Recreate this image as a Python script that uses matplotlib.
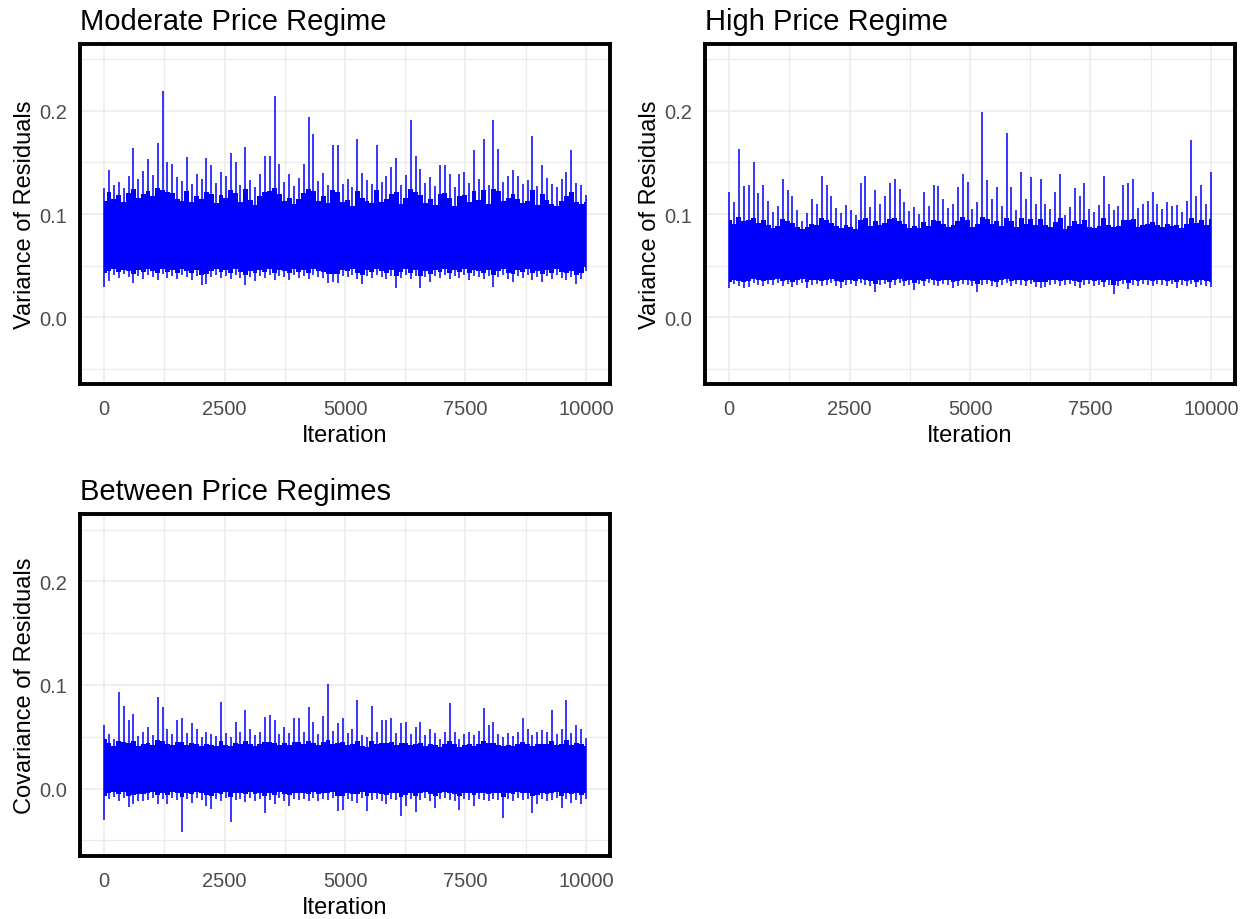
import numpy as np
import matplotlib.pyplot as plt
from matplotlib.ticker import MultipleLocator

plt.rcParams['font.family'] = ['Liberation Sans', 'DejaVu Sans']

#-------------------------------------
#-- Trace summaries (10000 iterations)
#-------------------------------------
# per 100-iteration block: highest / lowest draw (hi, lo)
# and the level that most draws in the block stay within (up, down)
mod_hi = [0.125, 0.143, 0.128, 0.131, 0.125, 0.137, 0.164, 0.134, 0.142, 0.153,
          0.138, 0.169, 0.219, 0.150, 0.149, 0.136, 0.132, 0.155, 0.129, 0.139,
          0.134, 0.154, 0.148, 0.130, 0.141, 0.137, 0.159, 0.150, 0.128, 0.165,
          0.133, 0.126, 0.139, 0.156, 0.156, 0.215, 0.149, 0.131, 0.139, 0.127,
          0.135, 0.149, 0.194, 0.178, 0.132, 0.140, 0.128, 0.167, 0.167, 0.129,
          0.134, 0.126, 0.173, 0.140, 0.133, 0.129, 0.167, 0.131, 0.137, 0.146,
          0.154, 0.128, 0.138, 0.191, 0.156, 0.144, 0.130, 0.136, 0.127, 0.148,
          0.148, 0.139, 0.126, 0.139, 0.141, 0.130, 0.162, 0.134, 0.173, 0.128,
          0.191, 0.163, 0.131, 0.137, 0.143, 0.137, 0.129, 0.133, 0.176, 0.127,
          0.148, 0.135, 0.129, 0.126, 0.134, 0.141, 0.162, 0.130, 0.128, 0.118]
mod_up = [0.113, 0.121, 0.115, 0.118, 0.112, 0.120, 0.124, 0.116, 0.119, 0.122,
          0.117, 0.125, 0.123, 0.121, 0.120, 0.115, 0.113, 0.122, 0.112, 0.117,
          0.115, 0.121, 0.119, 0.111, 0.118, 0.116, 0.123, 0.120, 0.112, 0.124,
          0.114, 0.109, 0.117, 0.121, 0.122, 0.125, 0.119, 0.113, 0.116, 0.110,
          0.115, 0.120, 0.124, 0.122, 0.113, 0.117, 0.111, 0.123, 0.121, 0.112,
          0.114, 0.108, 0.122, 0.116, 0.113, 0.111, 0.123, 0.112, 0.115, 0.119,
          0.121, 0.110, 0.116, 0.124, 0.121, 0.118, 0.111, 0.115, 0.109, 0.119,
          0.120, 0.116, 0.108, 0.117, 0.118, 0.112, 0.122, 0.114, 0.123, 0.110,
          0.124, 0.122, 0.113, 0.116, 0.119, 0.115, 0.111, 0.113, 0.123, 0.109,
          0.119, 0.114, 0.110, 0.108, 0.113, 0.117, 0.121, 0.112, 0.110, 0.112]
mod_down = [0.043, 0.045, 0.047, 0.044, 0.046, 0.045, 0.042, 0.046, 0.044, 0.047,
            0.045, 0.043, 0.047, 0.044, 0.046, 0.043, 0.047, 0.045, 0.043, 0.046,
            0.041, 0.042, 0.045, 0.047, 0.044, 0.046, 0.043, 0.047, 0.044, 0.041,
            0.045, 0.043, 0.046, 0.044, 0.047, 0.043, 0.046, 0.045, 0.043, 0.047,
            0.044, 0.046, 0.043, 0.047, 0.045, 0.044, 0.042, 0.042, 0.042, 0.046,
            0.045, 0.047, 0.043, 0.041, 0.046, 0.044, 0.047, 0.045, 0.043, 0.046,
            0.040, 0.044, 0.047, 0.043, 0.046, 0.040, 0.045, 0.042, 0.046, 0.044,
            0.047, 0.043, 0.046, 0.044, 0.047, 0.043, 0.046, 0.045, 0.043, 0.046,
            0.041, 0.045, 0.047, 0.043, 0.042, 0.046, 0.044, 0.047, 0.043, 0.045,
            0.042, 0.046, 0.043, 0.047, 0.044, 0.043, 0.045, 0.041, 0.043, 0.049]
mod_lo = [0.029, 0.035, 0.041, 0.038, 0.042, 0.039, 0.033, 0.040, 0.037, 0.041,
          0.039, 0.036, 0.042, 0.038, 0.040, 0.037, 0.041, 0.039, 0.036, 0.040,
          0.031, 0.032, 0.039, 0.041, 0.038, 0.040, 0.037, 0.041, 0.038, 0.031,
          0.039, 0.035, 0.040, 0.038, 0.041, 0.036, 0.040, 0.039, 0.036, 0.041,
          0.038, 0.040, 0.037, 0.041, 0.039, 0.038, 0.033, 0.034, 0.033, 0.040,
          0.039, 0.041, 0.037, 0.032, 0.040, 0.038, 0.041, 0.039, 0.037, 0.040,
          0.028, 0.038, 0.041, 0.037, 0.040, 0.028, 0.039, 0.034, 0.040, 0.038,
          0.041, 0.037, 0.040, 0.038, 0.041, 0.036, 0.040, 0.039, 0.037, 0.040,
          0.029, 0.039, 0.041, 0.037, 0.034, 0.040, 0.038, 0.041, 0.036, 0.039,
          0.034, 0.040, 0.037, 0.041, 0.038, 0.036, 0.039, 0.032, 0.037, 0.045]

high_hi = [0.121, 0.112, 0.163, 0.127, 0.128, 0.150, 0.120, 0.128, 0.113, 0.102,
           0.108, 0.134, 0.123, 0.117, 0.104, 0.093, 0.101, 0.115, 0.110, 0.137,
           0.128, 0.117, 0.106, 0.101, 0.109, 0.104, 0.099, 0.130, 0.137, 0.107,
           0.123, 0.110, 0.117, 0.130, 0.134, 0.124, 0.112, 0.103, 0.107, 0.100,
           0.121, 0.108, 0.128, 0.127, 0.115, 0.106, 0.110, 0.126, 0.139, 0.131,
           0.105, 0.112, 0.199, 0.133, 0.115, 0.126, 0.108, 0.179, 0.126, 0.104,
           0.141, 0.115, 0.136, 0.110, 0.134, 0.110, 0.105, 0.121, 0.139, 0.099,
           0.107, 0.125, 0.117, 0.130, 0.105, 0.102, 0.109, 0.137, 0.110, 0.104,
           0.108, 0.128, 0.130, 0.134, 0.106, 0.110, 0.113, 0.121, 0.110, 0.105,
           0.112, 0.108, 0.109, 0.102, 0.113, 0.172, 0.117, 0.128, 0.110, 0.141]
high_up = [0.094, 0.090, 0.097, 0.093, 0.094, 0.096, 0.091, 0.094, 0.089, 0.086,
           0.088, 0.095, 0.093, 0.091, 0.087, 0.085, 0.087, 0.090, 0.089, 0.096,
           0.094, 0.091, 0.088, 0.086, 0.089, 0.087, 0.085, 0.094, 0.096, 0.088,
           0.093, 0.089, 0.091, 0.095, 0.096, 0.093, 0.090, 0.086, 0.088, 0.086,
           0.092, 0.088, 0.094, 0.093, 0.090, 0.087, 0.089, 0.093, 0.097, 0.094,
           0.087, 0.090, 0.097, 0.095, 0.090, 0.093, 0.088, 0.096, 0.093, 0.087,
           0.096, 0.090, 0.095, 0.089, 0.095, 0.089, 0.087, 0.092, 0.096, 0.085,
           0.088, 0.093, 0.090, 0.094, 0.087, 0.086, 0.088, 0.096, 0.089, 0.087,
           0.088, 0.094, 0.094, 0.095, 0.087, 0.089, 0.090, 0.092, 0.089, 0.087,
           0.090, 0.088, 0.089, 0.086, 0.090, 0.096, 0.091, 0.094, 0.089, 0.095]
high_down = [0.034, 0.036, 0.035, 0.034, 0.035, 0.037, 0.036, 0.035, 0.036, 0.036,
             0.037, 0.035, 0.036, 0.034, 0.036, 0.037, 0.034, 0.036, 0.036, 0.035,
             0.036, 0.037, 0.035, 0.034, 0.036, 0.036, 0.035, 0.037, 0.036, 0.035,
             0.032, 0.036, 0.036, 0.034, 0.036, 0.037, 0.035, 0.036, 0.033, 0.036,
             0.035, 0.037, 0.036, 0.035, 0.036, 0.036, 0.034, 0.035, 0.036, 0.036,
             0.035, 0.032, 0.036, 0.036, 0.035, 0.034, 0.036, 0.037, 0.035, 0.036,
             0.036, 0.035, 0.036, 0.034, 0.034, 0.034, 0.036, 0.036, 0.035, 0.036,
             0.036, 0.035, 0.034, 0.036, 0.036, 0.035, 0.036, 0.034, 0.036, 0.031,
             0.035, 0.036, 0.033, 0.036, 0.035, 0.036, 0.036, 0.035, 0.036, 0.036,
             0.035, 0.036, 0.034, 0.036, 0.035, 0.036, 0.034, 0.036, 0.035, 0.034]
high_lo = [0.028, 0.032, 0.030, 0.028, 0.029, 0.033, 0.031, 0.030, 0.032, 0.031,
           0.033, 0.030, 0.032, 0.029, 0.031, 0.033, 0.028, 0.031, 0.032, 0.030,
           0.031, 0.033, 0.030, 0.028, 0.031, 0.032, 0.030, 0.033, 0.031, 0.030,
           0.024, 0.031, 0.032, 0.028, 0.031, 0.033, 0.030, 0.031, 0.026, 0.032,
           0.030, 0.033, 0.031, 0.030, 0.032, 0.031, 0.028, 0.030, 0.032, 0.031,
           0.030, 0.024, 0.031, 0.032, 0.030, 0.029, 0.031, 0.033, 0.030, 0.032,
           0.031, 0.030, 0.032, 0.029, 0.028, 0.029, 0.031, 0.032, 0.030, 0.031,
           0.032, 0.030, 0.028, 0.031, 0.032, 0.030, 0.031, 0.029, 0.031, 0.022,
           0.030, 0.032, 0.027, 0.031, 0.030, 0.032, 0.031, 0.030, 0.032, 0.031,
           0.030, 0.032, 0.028, 0.031, 0.030, 0.032, 0.029, 0.031, 0.030, 0.029]

btw_hi = [0.061, 0.053, 0.048, 0.0935, 0.080, 0.066, 0.072, 0.051, 0.055, 0.059,
          0.052, 0.088, 0.079, 0.058, 0.053, 0.066, 0.068, 0.054, 0.063, 0.058,
          0.050, 0.055, 0.053, 0.051, 0.084, 0.054, 0.050, 0.064, 0.055, 0.076,
          0.058, 0.052, 0.055, 0.069, 0.071, 0.066, 0.053, 0.059, 0.054, 0.068,
          0.068, 0.055, 0.079, 0.064, 0.053, 0.070, 0.101, 0.056, 0.063, 0.068,
          0.054, 0.058, 0.086, 0.052, 0.050, 0.080, 0.055, 0.066, 0.066, 0.068,
          0.054, 0.063, 0.064, 0.053, 0.059, 0.064, 0.052, 0.058, 0.054, 0.048,
          0.055, 0.083, 0.055, 0.048, 0.053, 0.055, 0.052, 0.056, 0.078, 0.061,
          0.064, 0.053, 0.050, 0.054, 0.051, 0.055, 0.068, 0.058, 0.052, 0.055,
          0.057, 0.055, 0.076, 0.053, 0.058, 0.086, 0.054, 0.061, 0.058, 0.049]
btw_up = [0.048, 0.044, 0.041, 0.046, 0.045, 0.044, 0.046, 0.041, 0.043, 0.044,
          0.042, 0.047, 0.046, 0.043, 0.042, 0.045, 0.045, 0.042, 0.044, 0.043,
          0.041, 0.043, 0.042, 0.041, 0.046, 0.042, 0.041, 0.044, 0.043, 0.046,
          0.043, 0.041, 0.043, 0.045, 0.045, 0.044, 0.042, 0.044, 0.042, 0.045,
          0.045, 0.043, 0.046, 0.044, 0.042, 0.045, 0.047, 0.043, 0.044, 0.045,
          0.042, 0.043, 0.046, 0.041, 0.040, 0.046, 0.043, 0.044, 0.044, 0.045,
          0.042, 0.044, 0.044, 0.042, 0.043, 0.044, 0.041, 0.043, 0.042, 0.040,
          0.043, 0.046, 0.043, 0.040, 0.042, 0.043, 0.041, 0.043, 0.046, 0.044,
          0.044, 0.042, 0.041, 0.042, 0.041, 0.043, 0.045, 0.043, 0.041, 0.043,
          0.043, 0.043, 0.046, 0.042, 0.043, 0.047, 0.042, 0.044, 0.043, 0.041]
btw_down = [-0.007, -0.004, -0.003, -0.005, -0.003, -0.007, -0.006, -0.005, -0.005, -0.004,
            -0.003, -0.006, -0.004, -0.006, -0.003, -0.004, -0.008, -0.004, -0.005, -0.003,
            -0.004, -0.006, -0.007, -0.004, -0.005, -0.003, -0.008, -0.004, -0.004, -0.005,
            -0.003, -0.005, -0.004, -0.007, -0.004, -0.006, -0.003, -0.005, -0.006, -0.004,
            -0.004, -0.004, -0.005, -0.003, -0.005, -0.004, -0.004, -0.003, -0.007, -0.007,
            -0.004, -0.005, -0.005, -0.003, -0.007, -0.004, -0.004, -0.005, -0.006, -0.004,
            -0.004, -0.008, -0.006, -0.004, -0.007, -0.004, -0.003, -0.005, -0.007, -0.004,
            -0.003, -0.004, -0.005, -0.007, -0.004, -0.004, -0.006, -0.004, -0.004, -0.005,
            -0.004, -0.004, -0.008, -0.004, -0.005, -0.003, -0.004, -0.004, -0.007, -0.006,
            -0.004, -0.005, -0.004, -0.003, -0.007, -0.004, -0.005, -0.004, -0.006, -0.004]
btw_lo = [-0.030, -0.010, -0.008, -0.012, -0.009, -0.018, -0.015, -0.012, -0.012, -0.011,
          -0.009, -0.015, -0.010, -0.015, -0.009, -0.011, -0.042, -0.010, -0.014, -0.009,
          -0.011, -0.017, -0.020, -0.010, -0.012, -0.009, -0.032, -0.011, -0.010, -0.013,
          -0.009, -0.012, -0.010, -0.024, -0.011, -0.015, -0.009, -0.012, -0.017, -0.010,
          -0.011, -0.010, -0.012, -0.009, -0.012, -0.010, -0.011, -0.009, -0.022, -0.021,
          -0.010, -0.012, -0.014, -0.009, -0.022, -0.011, -0.010, -0.012, -0.015, -0.010,
          -0.011, -0.026, -0.017, -0.010, -0.023, -0.011, -0.009, -0.012, -0.019, -0.010,
          -0.009, -0.011, -0.012, -0.021, -0.010, -0.011, -0.017, -0.010, -0.011, -0.012,
          -0.010, -0.011, -0.028, -0.010, -0.012, -0.009, -0.011, -0.010, -0.024, -0.015,
          -0.010, -0.012, -0.011, -0.009, -0.019, -0.010, -0.014, -0.011, -0.015, -0.010]

n_iter = 10000
blue = '#0000FF'


def trace_panel(rect, title, ylabel, hi, up, down, lo):
    ax = fig.add_axes(rect)
    pos = np.linspace(1, n_iter, len(hi))
    # dense body of the chain, one step per block
    ax.fill_between(pos, down, up, step='mid', color=blue, lw=0, zorder=2)
    # block extremes as single draws
    ax.vlines(pos, lo, hi, color=blue, lw=1.1, zorder=3)

    ax.set_xlim(-500, 10500)
    ax.set_ylim(-0.065, 0.265)
    ax.xaxis.set_major_locator(MultipleLocator(2500))
    ax.xaxis.set_minor_locator(MultipleLocator(1250))
    ax.yaxis.set_minor_locator(MultipleLocator(0.05))
    ax.set_yticks([0.0, 0.1, 0.2])
    ax.set_yticklabels(['0.0', '0.1', '0.2'])
    ax.grid(which='major', color='#EBEBEB', lw=1.1, zorder=0)
    ax.grid(which='minor', color='#EBEBEB', lw=0.9, zorder=0)
    ax.set_axisbelow(True)
    ax.tick_params(which='both', length=0, labelsize=14.5, labelcolor='#4D4D4D')
    ax.tick_params(axis='x', pad=11)
    ax.tick_params(axis='y', pad=9)
    for s in ax.spines.values():
        s.set_linewidth(2.8)
        s.set_color('black')
    ax.set_xlabel('Iteration', fontsize=17, labelpad=4)
    ax.set_ylabel(ylabel, fontsize=17, labelpad=3)
    ax.set_title(title, loc='left', fontsize=21, pad=11)
    return ax


fig = plt.figure(figsize=(12.47, 9.2), dpi=100)

trace_panel([0.0642, 0.5815, 0.425, 0.3696], 'Moderate Price Regime',
            'Variance of Residuals', mod_hi, mod_up, mod_down, mod_lo)
trace_panel([0.5654, 0.5815, 0.425, 0.3696], 'High Price Regime',
            'Variance of Residuals', high_hi, high_up, high_down, high_lo)
trace_panel([0.0642, 0.0685, 0.425, 0.3717], 'Between Price Regimes',
            'Covariance of Residuals', btw_hi, btw_up, btw_down, btw_lo)

plt.savefig('out.png', dpi=100)
